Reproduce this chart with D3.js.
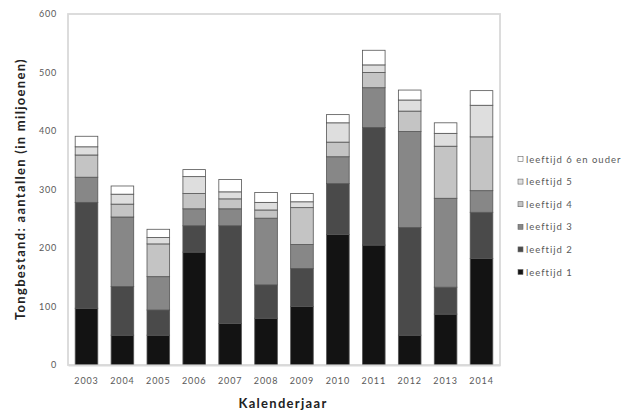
<!DOCTYPE html>
<html><head><meta charset="utf-8">
<script src="https://cdn.jsdelivr.net/npm/d3@7"></script>
<style>body{margin:0;background:#fff}svg{display:block}</style>
</head><body>
<svg id="c" width="621" height="412"></svg>
<script>
const years = ["2003","2004","2005","2006","2007","2008","2009","2010","2011","2012","2013","2014"];
const leeftijd1 = [97, 51, 51, 193, 71, 80, 100, 223, 205, 51, 87, 182];
const leeftijd2 = [181, 83, 43, 45, 167, 57, 65, 87, 201, 184, 46, 79];
const leeftijd3 = [43, 119, 57, 29, 29, 114, 41, 46, 68, 164, 152, 37];
const leeftijd4 = [38, 22, 56, 26, 17, 14, 63, 25, 26, 35, 89, 92];
const leeftijd5 = [14, 17, 11, 29, 12, 13, 10, 33, 13, 19, 22, 54];
const leeftijd6 = [18, 14, 14, 12, 21, 17, 14, 14, 25, 17, 18, 25];
const seriesNames = ["leeftijd 1","leeftijd 2","leeftijd 3","leeftijd 4","leeftijd 5","leeftijd 6 en ouder"];
const seriesValues = [leeftijd1, leeftijd2, leeftijd3, leeftijd4, leeftijd5, leeftijd6];
const yTicks = [0,100,200,300,400,500,600];
const colors = ["#131313","#4a4a4a","#878787","#c4c4c4","#dedede","#ffffff"];

const svg = d3.select("#c");
const font = "Lato, 'Open Sans', sans-serif";
const L = 68, R = 500, T = 14, B = 365;

const x = d3.scaleBand().domain(years).range([L, R]).paddingInner(0.37).paddingOuter(0.2);
const y = d3.scaleLinear().domain([0, 600]).range([B, T]);

const rows = years.map((yr, i) => {
  const o = {year: yr};
  seriesNames.forEach((s, j) => o[s] = seriesValues[j][i]);
  return o;
});
const stacked = d3.stack().keys(seriesNames)(rows);

// plot frame
svg.append("rect").attr("x", L).attr("y", T).attr("width", R - L).attr("height", B - T)
  .attr("fill", "none").attr("stroke", "#d9d9d9").attr("stroke-width", 1.8);

stacked.forEach((layer, j) => {
  svg.append("g").selectAll("rect").data(layer).join("rect")
    .attr("x", d => x(d.data.year))
    .attr("width", x.bandwidth())
    .attr("y", d => y(d[1]))
    .attr("height", d => y(d[0]) - y(d[1]))
    .attr("fill", colors[j])
    .attr("stroke", "#555")
    .attr("stroke-width", 0.8);
});

// axes
const yAxis = svg.append("g").attr("transform", `translate(${L},0)`)
  .call(d3.axisLeft(y).tickValues(yTicks).tickSize(0).tickPadding(11));
yAxis.select(".domain").remove();
yAxis.selectAll("text").attr("fill", "#595959").style("font-family", font)
  .style("font-size", "9px").style("letter-spacing", "0.8px");

const xAxis = svg.append("g").attr("transform", `translate(0,${B})`)
  .call(d3.axisBottom(x).tickSize(0).tickPadding(13));
xAxis.select(".domain").attr("stroke", "#d9d9d9").attr("stroke-width", 1.8);
xAxis.selectAll("text").attr("fill", "#595959").style("font-family", font)
  .style("font-size", "9px").style("letter-spacing", "0.9px");

svg.append("text").attr("x", 283).attr("y", 408).attr("text-anchor", "middle")
  .style("font-family", font).style("font-size", "13px").style("font-weight", "bold")
  .style("letter-spacing", "1.3px").attr("fill", "#222")
  .text("Kalenderjaar");

svg.append("text").attr("transform", "translate(25,189) rotate(-90)").attr("text-anchor", "middle")
  .style("font-family", font).style("font-size", "13px").style("font-weight", "bold")
  .style("letter-spacing", "1.3px").attr("fill", "#222")
  .text("Tongbestand: aantallen (in miljoenen)");

// legend
const legendOrder = seriesNames.map((s, j) => ({name: s, color: colors[j]})).reverse();
const lg = svg.append("g");
legendOrder.forEach((d, i) => {
  const yy = 159 + i * 22.6;
  lg.append("rect").attr("x", 518).attr("y", yy - 2.5).attr("width", 5).attr("height", 5)
    .attr("fill", d.color).attr("stroke", "#666").attr("stroke-width", 0.6);
  lg.append("text").attr("x", 526).attr("y", yy + 3.5)
    .style("font-family", font).style("font-size", "9.5px").style("letter-spacing", "1px")
    .attr("fill", "#595959").text(d.name);
});
</script>
</body></html>
